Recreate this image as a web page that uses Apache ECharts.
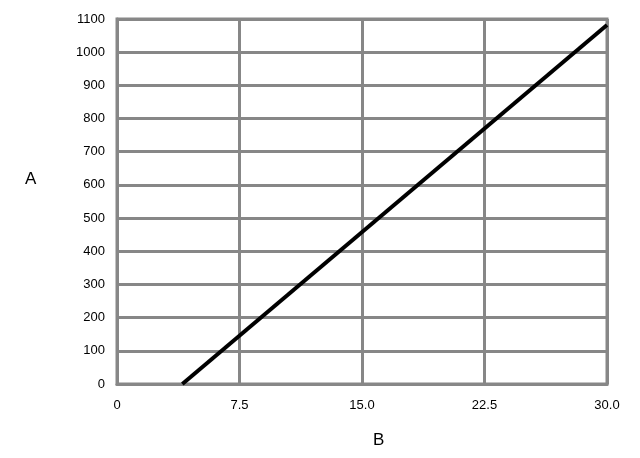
<!DOCTYPE html>
<html><head><meta charset="utf-8">
<script src="https://cdn.jsdelivr.net/npm/echarts@6/dist/echarts.min.js"></script>
<style>html,body{margin:0;padding:0;background:#fff}#c{width:640px;height:458px}</style>
</head><body><div id="c"></div>
<script>
const xValues = [4, 30];
const yValues = [0, 1082];
const xTicks = [0, 7.5, 15, 22.5, 30];
const yTicks = [0, 100, 200, 300, 400, 500, 600, 700, 800, 900, 1000, 1100];
const xName = 'B';
const yName = 'A';

const chart = echarts.init(document.getElementById('c'));
const gray = '#878787';
const font = 'Liberation Sans, Arial, sans-serif';
chart.setOption({
  animation: false,
  grid: {left: 117, right: 33, top: 19, bottom: 74, show: true, borderColor: gray, borderWidth: 3},
  xAxis: {
    type: 'value', min: xTicks[0], max: xTicks[xTicks.length-1], interval: 7.5,
    axisLine: {show: true, lineStyle: {color: gray, width: 3}},
    axisTick: {show: false},
    splitLine: {show: true, lineStyle: {color: gray, width: 3}},
    axisLabel: {color: '#000', fontSize: 13, fontFamily: font, margin: 15,
      formatter: v => v === 0 ? '0' : v.toFixed(1)}
  },
  yAxis: {
    type: 'value', min: yTicks[0], max: yTicks[yTicks.length-1], interval: 100,
    axisLine: {show: true, lineStyle: {color: gray, width: 3}},
    axisTick: {show: false},
    splitLine: {show: true, lineStyle: {color: gray, width: 3}},
    axisLabel: {color: '#000', fontSize: 13, fontFamily: font, margin: 12,
      formatter: v => String(v)}
  },
  graphic: [
    {type: 'text', left: 25, top: 171, style: {text: yName, fontSize: 17, fontFamily: font, fill: '#000'}},
    {type: 'text', left: 373, top: 432, style: {text: xName, fontSize: 17, fontFamily: font, fill: '#000'}}
  ],
  series: [{
    type: 'line', data: xValues.map((x, i) => [x, yValues[i]]),
    symbol: 'none', lineStyle: {color: '#000', width: 4}
  }]
});
</script></body></html>
